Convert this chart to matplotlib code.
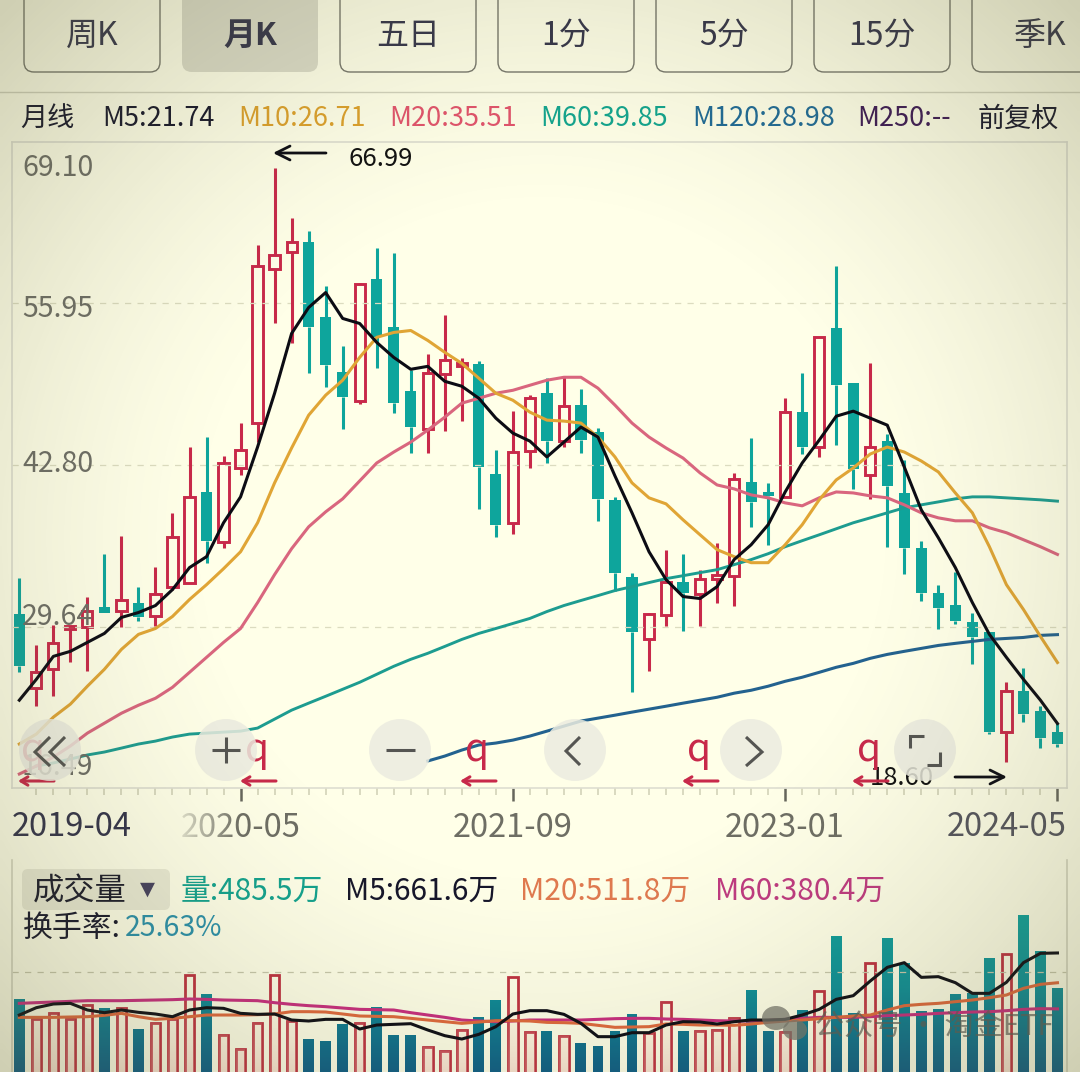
"""Monthly K-line screenshot: candles, moving averages and volume panel"""

import matplotlib
matplotlib.use('Agg')
import matplotlib.pyplot as plt
import numpy as np
from matplotlib.patches import Circle, Ellipse, FancyBboxPatch, PathPatch
from matplotlib.path import Path
from matplotlib.colors import LinearSegmentedColormap

plt.rcParams['font.family'] = ['Noto Sans CJK SC', 'DejaVu Sans']

# candles, 2019-04 to 2024-05
opens = [30.70, 24.61, 26.16, 29.40, 29.57, 31.19, 30.94, 31.59, 30.46, 32.89, 33.22, 40.60, 36.55, 42.55, 46.21, 58.79,
         60.17, 60.98, 54.81, 50.34, 48.00, 57.97, 54.00, 48.80, 45.72, 50.18, 50.83, 51.00, 42.07, 38.09, 43.93, 48.64,
         44.74, 47.67, 45.47, 39.96, 33.70, 28.59, 30.54, 33.30, 32.32, 33.54, 33.78, 41.42, 40.44, 40.20, 47.10, 44.26,
         53.92, 49.45, 41.98, 44.74, 40.52, 36.06, 32.41, 31.43, 29.97, 29.16, 21.04, 24.37, 22.75, 21.04]
highs = [33.62, 28.10, 29.73, 29.65, 32.08, 35.57, 37.03, 32.89, 34.52, 38.90, 44.26, 45.07, 43.53, 46.21, 60.73, 66.99,
         62.93, 61.87, 57.41, 52.46, 57.65, 60.49, 60.09, 50.51, 51.81, 55.05, 51.48, 51.24, 44.01, 47.18, 48.48, 49.86,
         49.94, 48.96, 45.80, 40.20, 34.03, 30.78, 35.90, 35.57, 34.27, 36.47, 42.15, 45.01, 41.34, 48.23, 50.26, 53.19,
         59.03, 49.45, 51.07, 45.31, 43.20, 36.63, 33.05, 34.11, 30.78, 29.16, 25.10, 26.24, 23.15, 21.77]
lows = [25.91, 23.15, 23.96, 26.73, 25.99, 30.78, 29.57, 30.05, 29.65, 32.65, 33.22, 34.84, 36.06, 41.98, 44.66, 54.40,
        52.70, 50.26, 49.13, 45.72, 47.75, 50.67, 47.02, 43.77, 43.77, 45.56, 46.37, 39.22, 36.95, 37.20, 42.55, 42.96,
        44.26, 43.77, 38.25, 32.57, 24.29, 25.99, 29.65, 29.24, 29.65, 31.59, 31.35, 37.76, 36.30, 40.20, 43.69, 43.45,
        44.42, 40.85, 40.04, 36.14, 33.95, 31.68, 29.40, 29.81, 26.56, 20.88, 18.60, 21.85, 19.74, 19.83]
closes = [26.40, 25.91, 28.27, 29.65, 30.94, 30.78, 31.76, 30.38, 32.32, 36.95, 40.20, 36.63, 42.96, 44.01, 59.03, 59.92,
          60.98, 54.00, 50.91, 48.32, 57.57, 53.19, 47.83, 45.88, 50.26, 51.32, 51.07, 42.63, 37.93, 43.85, 48.23, 44.74,
          47.59, 44.82, 40.04, 34.03, 29.16, 30.70, 33.30, 32.41, 33.54, 33.87, 41.66, 39.79, 40.28, 47.10, 44.26, 53.19,
          49.29, 42.47, 44.26, 41.09, 36.06, 32.41, 31.11, 30.05, 28.75, 21.04, 24.37, 22.50, 20.56, 20.07]

m5 = [23.64, 25.34, 27.21, 27.62, 28.35, 29.08, 30.38, 30.78, 31.35, 32.65, 34.44, 35.33, 38.09, 40.20, 44.26, 48.64,
      53.51, 55.62, 56.84, 54.73, 54.32, 52.78, 51.56, 50.59, 50.83, 49.61, 49.21, 48.23, 46.61, 45.39, 44.74, 43.45,
      44.66, 45.88, 45.07, 41.90, 38.90, 35.73, 33.46, 32.08, 31.92, 32.89, 35.09, 36.30, 37.93, 40.60, 42.96, 44.82,
      46.77, 47.18, 46.61, 46.04, 42.63, 39.14, 36.87, 34.44, 31.59, 29.00, 27.13, 25.34, 23.64, 21.74]
m10 = [20.07, 20.88, 22.26, 23.32, 24.78, 26.16, 27.78, 29.00, 29.48, 30.46, 31.84, 33.05, 34.35, 35.73, 38.09, 41.34,
       44.18, 46.85, 48.48, 49.70, 51.56, 53.19, 53.59, 53.75, 52.94, 51.97, 51.07, 49.86, 48.64, 48.07, 47.10, 46.45,
       46.37, 46.21, 45.07, 43.45, 41.34, 40.12, 39.63, 38.33, 37.11, 35.90, 35.33, 34.84, 34.84, 36.30, 37.93, 39.96,
       41.58, 42.55, 43.69, 44.26, 43.85, 43.12, 42.23, 40.52, 38.90, 36.14, 33.05, 31.03, 28.83, 26.71]
m20 = [17.63, 18.28, 19.01, 19.91, 20.96, 21.77, 22.58, 23.23, 23.80, 24.69, 25.91, 27.13, 28.35, 29.48, 31.59, 33.87,
       35.98, 37.76, 38.98, 40.04, 41.50, 42.96, 43.85, 44.66, 45.64, 46.69, 47.83, 48.23, 48.64, 48.88, 49.29, 49.70,
       49.94, 49.94, 49.05, 47.67, 46.21, 45.07, 44.18, 43.36, 42.15, 41.17, 40.85, 40.36, 40.12, 39.71, 39.47, 40.12,
       40.60, 40.52, 40.28, 40.12, 39.55, 38.90, 38.49, 38.25, 38.25, 37.68, 37.28, 36.71, 36.14, 35.51]
# M60 starts at the second candle, M120 at the 25th
m60 = [18.28, 18.53, 18.85, 19.18, 19.42, 19.74, 20.07, 20.31, 20.64, 20.88, 20.96, 21.04, 21.12, 21.37, 22.10, 22.83,
       23.40, 23.96, 24.53, 25.10, 25.75, 26.40, 26.97, 27.46, 28.02, 28.59, 29.08, 29.48, 29.89, 30.30, 30.86, 31.35,
       31.76, 32.16, 32.57, 32.89, 33.22, 33.54, 33.78, 34.03, 34.27, 34.68, 35.09, 35.57, 36.14, 36.63, 37.11, 37.60,
       38.09, 38.49, 38.90, 39.31, 39.55, 39.79, 40.04, 40.20, 40.20, 40.12, 40.04, 39.96, 39.85]
m120 = [18.69, 19.09, 19.58, 19.99, 20.15, 20.39, 20.72, 21.12, 21.53, 21.94, 22.18, 22.42, 22.67, 22.91, 23.15, 23.40,
        23.64, 23.88, 24.21, 24.45, 24.78, 25.18, 25.51, 25.91, 26.32, 26.64, 27.05, 27.37, 27.62, 27.86, 28.10, 28.27,
        28.43, 28.59, 28.67, 28.75, 28.92, 28.98]

# volume, in units of 10 000 (万)
volume = [428.3, 327.7, 357.9, 327.7, 399.8, 383.1, 386.4, 279.1, 307.6, 327.7, 550.7, 453.5, 248.9, 178.5, 307.6, 550.7,
          321.0, 227.1, 218.7, 304.3, 307.6, 391.5, 248.9, 248.9, 186.9, 168.4, 274.1, 341.1, 425.0, 539.0, 262.4, 269.0,
          245.6, 210.4, 193.6, 269.0, 354.6, 257.3, 416.6, 269.0, 269.0, 274.1, 336.1, 475.3, 269.0, 265.7, 374.7, 471.9,
          746.9, 357.9, 612.8, 736.8, 612.8, 369.6, 379.7, 455.2, 458.5, 637.9, 656.4, 852.5, 671.5, 485.5]
vol_m5 = [349.5, 386.4, 404.9, 408.2, 374.7, 361.3, 374.7, 363.0, 354.6, 341.1, 374.7, 386.4, 383.1, 357.9, 352.9, 354.6,
          324.4, 319.4, 327.7, 327.7, 279.1, 299.2, 302.6, 305.9, 274.1, 245.6, 228.8, 252.3, 290.9, 354.6, 371.3, 371.3,
          352.9, 307.6, 240.6, 240.6, 260.6, 260.6, 299.2, 316.0, 314.3, 304.3, 316.0, 324.4, 324.4, 327.7, 349.5, 378.0,
          428.3, 446.8, 520.6, 589.3, 612.8, 539.0, 542.4, 512.2, 458.5, 458.5, 513.9, 612.8, 659.7, 661.6]
vol_m20 = [337.8, 337.8, 337.8, 339.5, 341.1, 347.9, 357.9, 341.1, 327.7, 332.8, 341.1, 349.5, 349.5, 349.5, 351.2, 354.6,
           366.3, 366.3, 364.6, 354.6, 344.5, 342.8, 341.1, 332.8, 324.4, 316.0, 307.6, 314.3, 321.0, 321.0, 319.4, 312.6,
           311.0, 307.6, 297.6, 287.5, 289.2, 290.9, 304.3, 302.6, 299.2, 299.2, 297.6, 304.3, 312.6, 319.4, 324.4, 331.1,
           337.8, 344.5, 349.5, 374.7, 396.5, 403.2, 408.2, 416.6, 425.0, 436.7, 450.1, 483.7, 503.8, 511.8]
vol_m60 = [408.2, 411.6, 414.9, 418.3, 421.6, 421.6, 421.6, 423.3, 425.0, 426.7, 430.0, 428.3, 425.0, 423.3, 421.6, 411.6,
           403.2, 396.5, 391.5, 384.7, 378.0, 376.4, 374.7, 361.3, 349.5, 337.8, 324.4, 319.4, 316.0, 319.4, 324.4, 324.4,
           324.4, 324.4, 327.7, 331.1, 332.8, 332.8, 329.4, 327.7, 324.4, 321.0, 319.4, 319.4, 322.7, 327.7, 332.8, 337.8,
           337.8, 337.8, 341.1, 346.2, 349.5, 352.9, 357.9, 361.3, 364.6, 366.3, 371.3, 378.0, 381.4, 380.4]

price_labels = ['69.10', '55.95', '42.80', '29.64', '16.49']
price_grid = [55.95, 42.80, 29.64]
date_ticks = [13, 29, 45, 61]
date_labels = ['2020-05', '2021-09', '2023-01', '2024-05']
buttons = ['周K', '月K', '五日', '1分', '5分', '15分', '季K']

RED = '#c8294a'
GREEN = '#0ea59c'
W, H = 1080, 1072

fig = plt.figure(figsize=(W / 100, H / 100), dpi=100)


def px_axes(left, top, right, bottom, zorder):
    return fig.add_axes([left / W, 1 - bottom / H, (right - left) / W, (bottom - top) / H], zorder=zorder)


# paper colour under everything
bg = px_axes(0, 0, W, H, 0)
bg.set_facecolor('#ffffe8')
bg.set_xticks([])
bg.set_yticks([])
for s in bg.spines.values():
    s.set_visible(False)

# price panel
xs = np.arange(len(opens))
ax = px_axes(12, 142, 1067, 788, 1)
ax.patch.set_alpha(0)
ax.set_xlim(-0.43, 61.56)
ax.set_ylim(16.49, 69.10)
for y in price_grid:
    ax.axhline(y, color='#dcdcc0', lw=0.9, ls=(0, (5, 5)))

for i in xs:
    up = closes[i] >= opens[i]
    top, bot = max(opens[i], closes[i]), min(opens[i], closes[i])
    col = RED if up else GREEN
    ax.vlines(i, top, highs[i], color=col, lw=2.2)
    ax.vlines(i, lows[i], bot, color=col, lw=2.2)
    if up:
        ax.bar(i, max(top - bot, 0.15), 0.6, bottom=bot, facecolor='none', edgecolor=col, lw=2.1)
    else:
        ax.bar(i, max(top - bot, 0.3), 0.66, bottom=bot, color=col, lw=0)

ax.plot(xs[24:], m120, color='#23628f', lw=2.2)
ax.plot(xs[1:], m60, color='#1d9c90', lw=2.1)
ax.plot(xs, m20, color='#d9667e', lw=2.2)
ax.plot(xs, m10, color='#e0a535', lw=2.2)
ax.plot(xs, m5, color='#0c0c14', lw=2.2)

ax.set_yticks([])
ax.set_xticks(xs[1:], minor=True)
ax.set_xticks(date_ticks)
ax.set_xticklabels([date_labels[0], date_labels[1], date_labels[2], ''], fontsize=23.5, color='#6e6e64')
ax.tick_params(axis='x', which='minor', length=5, width=1.1, color='#cfcfb4')
ax.tick_params(axis='x', which='major', length=9, width=1.8, color='#66665c', pad=8)
for s in ax.spines.values():
    s.set_color('#deded0')
    s.set_linewidth(1.2)

# volume panel
vax = px_axes(12, 860, 1067, H, 1)
vax.patch.set_alpha(0)
vax.axhline(566, color='#c8c8ac', lw=0.9, ls=(0, (5, 5)))
up_idx = [i for i in xs if closes[i] >= opens[i]]
down_idx = [i for i in xs if closes[i] < opens[i]]
up_bars = vax.bar(up_idx, [volume[i] for i in up_idx], 0.56, facecolor='none', edgecolor='#be3040', lw=2.0)
down_bars = vax.bar(down_idx, [volume[i] for i in down_idx], 0.64, color='none', lw=0)


def gradient_fill(bars, colours):
    cmap = LinearSegmentedColormap.from_list('g', colours)
    grad = np.linspace(0, 1, 200).reshape(-1, 1)
    im = vax.imshow(grad, extent=(-0.43, 61.56, 62.9, 900), cmap=cmap, aspect='auto', origin='lower', zorder=1)
    path = Path.make_compound_path(*[b.get_path().transformed(b.get_patch_transform()) for b in bars])
    im.set_clip_path(PathPatch(path, transform=vax.transData))


gradient_fill(down_bars, ['#0c5d86', '#0d8f98', '#0fa49c'])
gradient_fill(up_bars, [(0.95, 0.68, 0.66, 0.32), (1, 0.9, 0.8, 0.0), (1, 0.9, 0.8, 0.0)])
vax.set_xlim(-0.43, 61.56)
vax.set_ylim(62.9, 1129.2)

vax.plot(xs, vol_m60, color='#c82c7e', lw=2.2, zorder=3)
vax.plot(xs, vol_m20, color='#e0683c', lw=2.2, zorder=3)
vax.plot(xs, vol_m5, color='#0c0c14', lw=2.2, zorder=4)
vax.set_xticks([])
vax.set_yticks([])
for name, s in vax.spines.items():
    s.set_color('#d6d6c0')
    s.set_linewidth(1.2)
    s.set_visible(name in ('left', 'right'))

# app furniture, in screen pixels
ui = px_axes(0, 0, W, H, 2)
ui.axis('off')
ui.patch.set_alpha(0)

btn_x = [24, 182, 340, 498, 656, 814, 972]
for i, (x, label) in enumerate(zip(btn_x, buttons)):
    active = i == 1
    ui.add_patch(FancyBboxPatch((x + 10, -30), 116, 92, boxstyle='round,pad=10,rounding_size=10',
                                lw=0 if active else 1.0, edgecolor='#77776c',
                                facecolor='#dcdcc8' if active else 'none'))
    ui.text(x + 68, 36, label, ha='center', va='center', fontsize=23, color='#35354a',
            fontweight='bold' if active else 'normal')
ui.plot([0, W], [92, 92], color='#d3d3bd', lw=1.0)

header = [(20, '月线', '#16162a'), (102, 'M5:21.74', '#16162a'), (238, 'M10:26.71', '#dda12c'),
          (389, 'M20:35.51', '#e2546c'), (540, 'M60:39.85', '#12a58f'), (692, 'M120:28.98', '#1f6a96'),
          (857, 'M250:--', '#3d1a55'), (978, '前复权', '#16162a')]
for x, label, col in header:
    ui.text(x, 119, label, ha='left', va='center', fontsize=19.5, color=col)

ypos = [168, 309, 464, 617, 767]
for y, label in zip(ypos, price_labels):
    ui.text(22, y, label, ha='left', va='center', fontsize=20.5, color='#6e6e66')

ui.text(12, 827, '2019-04', ha='left', va='center', fontsize=23.5, color='#33334a')
ui.text(1067, 827, date_labels[3], ha='right', va='center', fontsize=23.5, color='#55555e')

# the left part of the 2020-05 label is washed out in the screenshot
fade = np.zeros((1, 60, 4))
fade[..., :3] = (1, 1, 0.91)
fade[..., 3] = np.linspace(0.8, 0, 60)
ui.imshow(fade, extent=(180, 240, 845, 805), aspect='auto', zorder=4)

# hand-drawn notes on the screenshot
ui.text(348, 159, '66.99', ha='left', va='center', fontsize=18.5, color='#111111')
ui.text(870, 778, '18.60', ha='left', va='center', fontsize=18.5, color='#111111')
black_arrow = dict(arrowstyle='->,head_width=0.5,head_length=1.0', color='#0c0c14', lw=2.0, shrinkA=0, shrinkB=0)
ui.annotate('', (273, 153), (326, 153), arrowprops=black_arrow)
ui.annotate('', (1007, 777), (955, 777), arrowprops=black_arrow)
red_arrow = dict(arrowstyle='->,head_width=0.3,head_length=0.5', color=RED, lw=2.2, shrinkA=0, shrinkB=0)
for qx, x0 in zip([33, 257, 477, 699, 869], [18, 240, 460, 682, 852]):
    ui.text(qx, 750, 'q', ha='center', va='center', fontsize=28, color=RED)
    ui.annotate('', (x0, 781), (x0 + 36, 781), arrowprops=red_arrow)

for cx in [50, 226, 400, 575, 751, 925]:
    ui.add_patch(Circle((cx, 750), 31, facecolor='#ecece0', edgecolor='none', alpha=0.85, zorder=5))
icon = dict(color='#555552', lw=2.2, solid_capstyle='butt', solid_joinstyle='miter', zorder=6)
ui.plot([50, 35, 50], [737, 752, 766], **icon)
ui.plot([65, 50, 65], [737, 752, 766], **icon)
ui.plot([212, 240], [750, 750], **icon)
ui.plot([226, 226], [737, 763], **icon)
ui.plot([386, 415], [750, 750], **icon)
ui.plot([580, 566, 580], [737, 751, 765], **icon)
ui.plot([746, 762, 746], [737, 752, 766], **icon)
ui.plot([910, 910, 924], [748, 736, 736], **icon)
ui.plot([927, 940, 940], [765, 765, 752], **icon)

# volume legend
ui.add_patch(FancyBboxPatch((26, 873), 140, 33, boxstyle='round,pad=4,rounding_size=6', facecolor='#eaead4', lw=0))
ui.text(33, 892, '成交量', ha='left', va='center', fontsize=22.5, color='#1b1b2a')
ui.text(147, 889, '▼', ha='center', va='center', fontsize=14, color='#45405e', family='DejaVu Sans')
vol_legend = [(181, '量:485.5万', '#12a28e'), (345, 'M5:661.6万', '#16162a'),
              (520, 'M20:511.8万', '#e07a50'), (715, 'M60:380.4万', '#bf3a80')]
for x, label, col in vol_legend:
    ui.text(x, 891, label, ha='left', va='center', fontsize=21.5, color=col)
ui.text(23, 928, '换手率:', ha='left', va='center', fontsize=21.5, color='#16162a')
ui.text(125, 928, '25.63%', ha='left', va='center', fontsize=20.5, color='#2a90aa')

# watermark
ui.add_patch(Ellipse((776, 1018), 28, 24, color='#77776e', alpha=0.75, lw=0))
ui.add_patch(Ellipse((795, 1030), 24, 20, color='#77776e', alpha=0.75, lw=0))
ui.text(815, 1027, '公众号 · 淘金ETF', ha='left', va='center', fontsize=21, color='#5c5c56', alpha=0.7, zorder=6)

ui.set_xlim(0, W)
ui.set_ylim(H, 0)

# photo-filter vignette over the whole screenshot
vig = px_axes(0, 0, W, H, 3)
vig.axis('off')
yy, xx = np.mgrid[0:H:4, 0:W:4]
r = np.sqrt(((xx - W / 2) / (W / 2)) ** 2 + ((yy - H / 2) / (H / 2)) ** 2)
rgba = np.zeros(r.shape + (4,))
rgba[..., :3] = (0.38, 0.38, 0.22)
rgba[..., 3] = np.clip((r - 0.6) / 0.8, 0, 1) ** 1.4 * 0.3
vig.imshow(rgba, extent=(0, W, H, 0), aspect='auto', interpolation='bilinear')
vig.patch.set_alpha(0)

fig.savefig('out.png', dpi=100)
